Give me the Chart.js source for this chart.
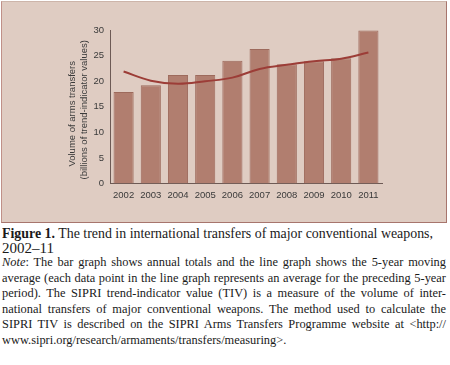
<!DOCTYPE html>
<html><head><meta charset="utf-8">
<script src="https://cdn.jsdelivr.net/npm/chart.js@4/dist/chart.umd.min.js"></script>
<style>
html,body{margin:0;padding:0;background:#fff;width:450px;height:365px;overflow:hidden}
#panel{position:absolute;left:1px;top:1px;width:444px;height:220px;background:#dfccc2;border:1px solid #a7756d;border-top-color:#cdb5aa;border-left-color:#c09088}
#panel canvas{position:absolute;left:0;top:0}
.cap{position:absolute;left:2px;width:444px;font-family:"Liberation Serif","DejaVu Serif",serif;color:#1a1a1a;white-space:nowrap;transform-origin:0 0}
.c1{font-size:15px;top:225px;line-height:16px}
.c2{font-size:15px;top:240px;line-height:16px}
.n{font-size:12.4px;line-height:15px;text-align:justify;text-align-last:justify}
.last{text-align-last:left}
</style></head>
<body>
<div id="panel"><canvas id="c" width="444" height="220"></canvas></div>
<div class="cap c1" data-fit="431"><b>Figure 1.</b> The trend in international transfers of major conventional weapons,</div>
<div class="cap c2">2002–11</div>
<div class="cap n" style="top:255px"><i>Note</i>: The bar graph shows annual totals and the line graph shows the 5-year moving</div>
<div class="cap n" style="top:270.5px">average (each data point in the line graph represents an average for the preceding 5-year</div>
<div class="cap n" style="top:286px">period). The SIPRI trend-indicator value (TIV) is a measure of the volume of inter-</div>
<div class="cap n" style="top:301.5px">national transfers of major conventional weapons. The method used to calculate the</div>
<div class="cap n" style="top:317px">SIPRI TIV is described on the SIPRI Arms Transfers Programme website at &lt;http://</div>
<div class="cap n last" style="top:332.5px">www.sipri.org/research/armaments/transfers/measuring&gt;.</div>
<script>
const years = ['2002','2003','2004','2005','2006','2007','2008','2009','2010','2011'];
const annualTotals = [17.9, 19.2, 21.2, 21.2, 24.0, 26.3, 23.3, 23.9, 24.5, 29.9];
const movingAverage = [21.9, 20.1, 19.5, 20.0, 20.7, 22.4, 23.2, 23.9, 24.4, 25.6];
const yTicks = [0, 5, 10, 15, 20, 25, 30];
const yTitle = ['Volume of arms transfers', '(billions of trend-indicator values)'];

// fit text lines into their widths
document.querySelectorAll('.cap').forEach(el => {
  const target = el.dataset.fit ? +el.dataset.fit : el.clientWidth;
  if (el.dataset.fit) {
    el.style.width = 'auto'; el.style.display = 'inline-block';
    const w = el.getBoundingClientRect().width;
    el.style.transform = 'scaleX(' + (target / w) + ')';
  } else {
    const w = el.scrollWidth;
    if (w > target) { el.style.width = w + 'px'; el.style.transform = 'scaleX(' + (target / w) + ')'; }
  }
});

const sans = '"Liberation Sans", Arial, sans-serif';
const tickFont = {family: sans, size: 9.5};
const titlePlugin = {
  id: 'ytitle',
  afterDraw(chart) {
    const ctx = chart.ctx, ca = chart.chartArea, ys = chart.scales.y;
    const mid = (ca.top + ca.bottom) / 2;
    ctx.save();
    ctx.fillStyle = '#3a3a3a';
    ctx.font = '9.5px ' + sans;
    ctx.textAlign = 'center'; ctx.textBaseline = 'middle';
    [[8.5, 7], [20, 3]].forEach(([dx, dy], i) => {
      ctx.save();
      ctx.translate(ys.left + dx, mid + dy);
      ctx.rotate(-Math.PI / 2);
      ctx.fillText(yTitle[i], 0, 0);
      ctx.restore();
    });
    ctx.restore();
  }
};
new Chart(document.getElementById('c'), {
  data: {
    labels: years,
    datasets: [
      {type: 'line', data: movingAverage, borderColor: '#9c3d37', borderWidth: 2, pointRadius: 0, tension: 0.4, fill: false, order: 0},
      {type: 'bar', data: annualTotals, backgroundColor: '#b17e6f', borderColor: '#9d6a5c', borderWidth: 1, categoryPercentage: 1, barPercentage: 0.74, order: 1}
    ]
  },
  options: {
    responsive: false, animation: false,
    layout: {padding: {top: 28, right: 64, bottom: 15, left: 62}},
    plugins: {legend: {display: false}, tooltip: {enabled: false}},
    scales: {
      x: {
        offset: true,
        grid: {display: false, drawTicks: false},
        border: {display: true, color: '#6d5a55', width: 1},
        ticks: {color: '#3a3a3a', font: tickFont, padding: 6, maxRotation: 0}
      },
      y: {
        min: 0, max: 30,
        afterFit: s => { s.width = 46; },
        afterBuildTicks: s => { s.ticks = yTicks.map(v => ({value: v})); },
        grid: {display: false, drawTicks: true, tickLength: 4, tickColor: '#6d5a55', drawOnChartArea: false},
        border: {display: true, color: '#6d5a55', width: 1},
        ticks: {color: '#3a3a3a', font: tickFont, padding: 2}
      }
    }
  },
  plugins: [titlePlugin]
});
</script>
</body></html>
